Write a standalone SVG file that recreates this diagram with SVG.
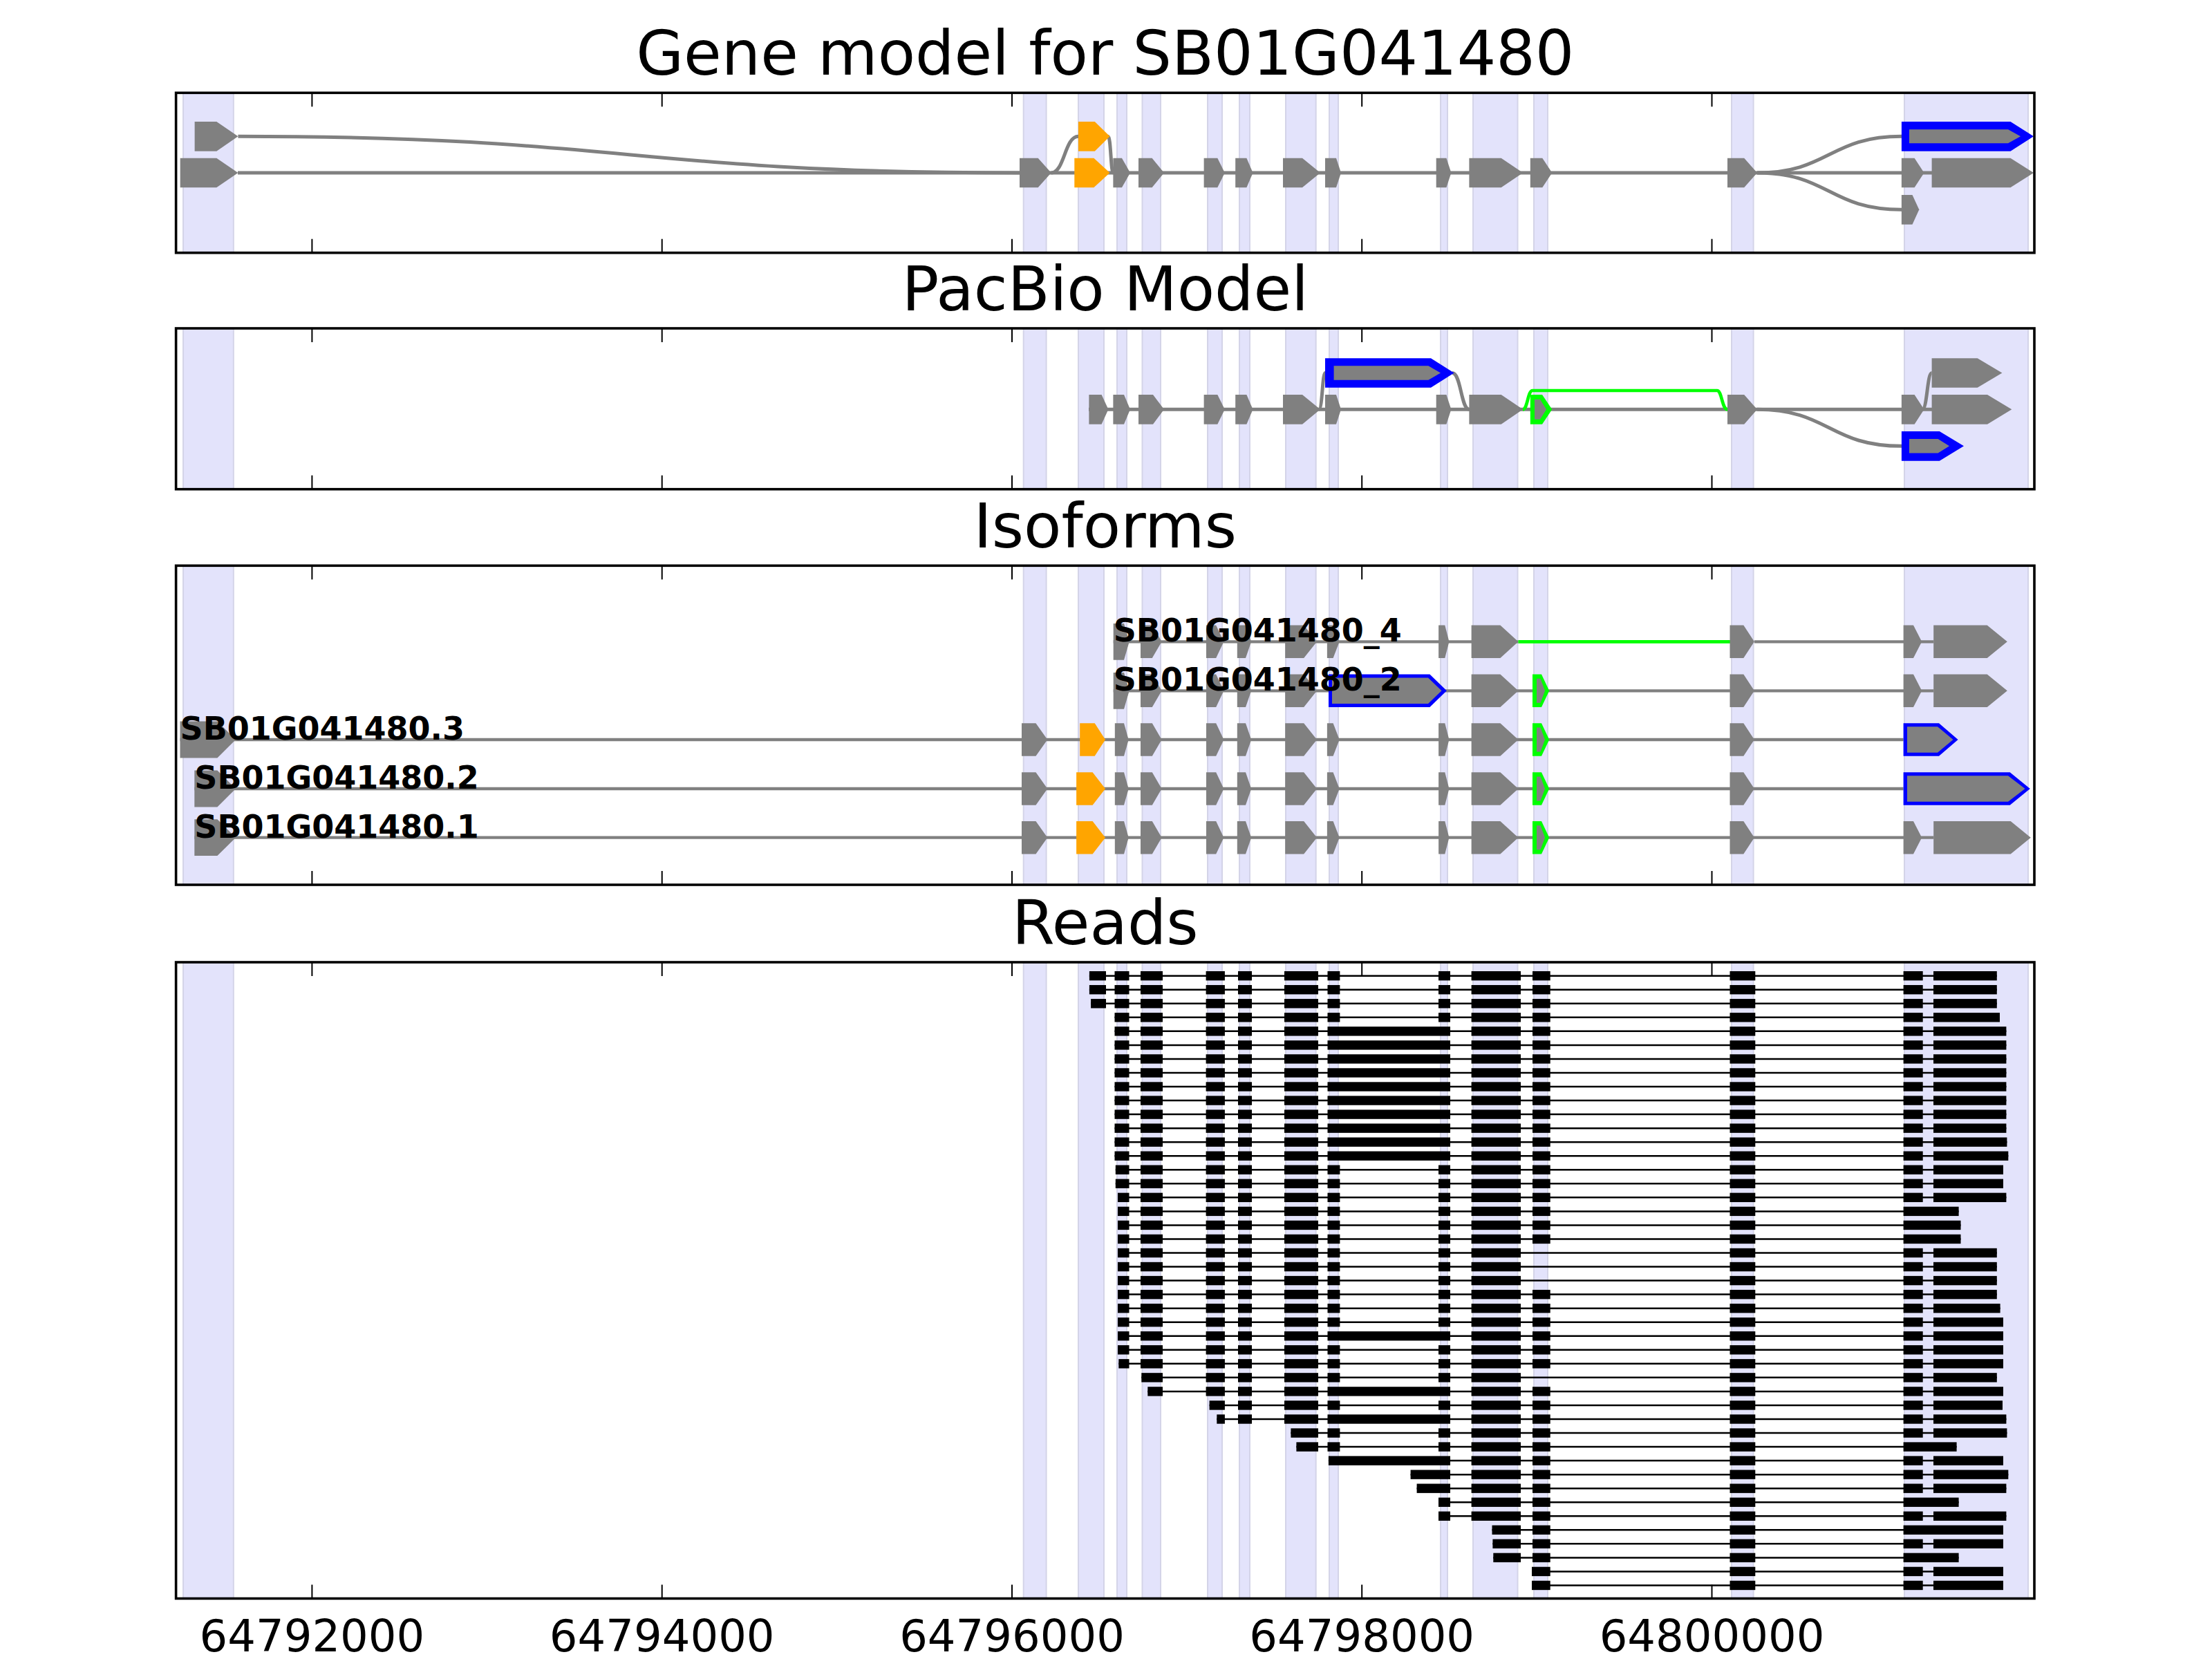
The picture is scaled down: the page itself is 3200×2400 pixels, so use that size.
<svg xmlns="http://www.w3.org/2000/svg" xmlns:xlink="http://www.w3.org/1999/xlink" width="3200" height="2400" viewBox="0 0 3200 2400">
<style>
.band{fill:#e3e3fb;stroke:#d4d4e8;stroke-width:2}
.frame{fill:none;stroke:#000;stroke-width:3.6}
.ex{fill:#808080}
.or{fill:#ffa500}
.bl{fill:#0000ff}
.gr{fill:#00ff00}
.ln{stroke:#808080;stroke-width:5;fill:none}
.ln3{stroke:#808080;stroke-width:4.3;fill:none}
.gl{stroke:#00ff00;stroke-width:4.7;fill:none}
.gl5{stroke:#00ff00;stroke-width:4.7;fill:none}
.title{font-family:'DejaVu Sans','Liberation Sans',sans-serif;font-size:88.9px;text-anchor:middle;fill:#000}
.tl{font-family:'DejaVu Sans','Liberation Sans',sans-serif;font-size:64px;text-anchor:middle;fill:#000}
.lab{font-family:'DejaVu Sans','Liberation Sans',sans-serif;font-weight:bold;font-size:46px;fill:#000}
.rl{stroke:#000;stroke-width:2.5}
.rd{fill:#000}
</style>
<defs>
<g id="tk" stroke="#000" stroke-width="2">
<line x1="451.4" y1="0" x2="451.4" y2="20"/><line x1="957.7" y1="0" x2="957.7" y2="20"/><line x1="1464" y1="0" x2="1464" y2="20"/><line x1="1970.2" y1="0" x2="1970.2" y2="20"/><line x1="2476.5" y1="0" x2="2476.5" y2="20"/>
</g>
<polygon id="pf" points="1741.6,-21.35 1761.3,-21.35 1771.8,0 1761.3,21.35 1741.6,21.35"/>
<polygon id="pg" points="1787.2,-21.35 1803.4,-21.35 1812.5,0 1803.4,21.35 1787.2,21.35"/>
<polygon id="ph" points="1856,-21.35 1884,-21.35 1910,0 1884,21.35 1856,21.35"/>
<polygon id="pi" points="1917,-21.35 1933,-21.35 1940,0 1933,21.35 1917,21.35"/>
<polygon id="pj" points="2077.7,-21.35 2092.4,-21.35 2099.4,0 2092.4,21.35 2077.7,21.35"/>
<polygon id="pk" points="2125.4,-21.35 2171.7,-21.35 2203.2,0 2171.7,21.35 2125.4,21.35"/>
<polygon id="pm" points="2499,-21.35 2523.2,-21.35 2542,0 2523.2,21.35 2499,21.35"/>
<polygon id="pn" points="2750.9,-21.35 2769.6,-21.35 2783.5,0 2769.6,21.35 2750.9,21.35"/>
<polygon id="iC1" points="1478,-23.7 1498.5,-23.7 1515.3,0 1498.5,23.7 1478,23.7"/>
<polygon id="iC3" points="1612.8,-23.7 1626,-23.7 1632.7,0 1626,23.7 1612.8,23.7"/>
<g id="iCore">
<polygon points="1650,-23.7 1666.8,-23.7 1680.6,0 1666.8,23.7 1650,23.7"/>
<polygon points="1745,-23.7 1759.2,-23.7 1770.4,0 1759.2,23.7 1745,23.7"/>
<polygon points="1789.8,-23.7 1802,-23.7 1810.2,0 1802,23.7 1789.8,23.7"/>
<polygon points="1859.2,-23.7 1886.2,-23.7 1905.1,0 1886.2,23.7 1859.2,23.7"/>
</g>
<g id="iC89">
<polygon points="1919.9,-23.7 1928.6,-23.7 1937.7,0 1928.6,23.7 1919.9,23.7"/>
<polygon points="2081.1,-23.7 2090.3,-23.7 2096.4,0 2090.3,23.7 2081.1,23.7"/>
</g>
<polygon id="iC10" points="2128.6,-23.7 2170.4,-23.7 2196.4,0 2170.4,23.7 2128.6,23.7"/>
<polygon id="iC11" points="2502.5,-23.7 2522.3,-23.7 2537.9,0 2522.3,23.7 2502.5,23.7"/>
<polygon id="iC12" points="2753.6,-23.7 2768,-23.7 2780.2,0 2768,23.7 2753.6,23.7"/>
<polygon id="iC13a" points="2797.2,-23.7 2874.7,-23.7 2903.8,0 2874.7,23.7 2797.2,23.7"/>
<polygon id="iF4" points="1610.7,-26.4 1626,-26.4 1633.7,0 1626,26.4 1610.7,26.4"/>
<polygon id="iF21" points="281.3,-26.4 314.4,-26.4 341,0 314.4,26.4 281.3,26.4"/>
<polygon id="iOr21" points="1557.1,-23.7 1580.6,-23.7 1599,0 1580.6,23.7 1557.1,23.7"/>
<g id="iG">
<polygon fill="#00ff00" points="2217,-23.7 2230,-23.7 2241.2,0 2230,23.7 2217,23.7"/>
<polygon fill="#808080" points="2223,-17.5 2228.5,-17.5 2235,0 2228.5,17.5 2223,17.5"/>
</g>
<rect id="r3" x="1650" y="-6.7" width="32" height="13.4"/>
<rect id="r4" x="1744.6" y="-6.7" width="27.3" height="13.4"/>
<rect id="r5" x="1791" y="-6.7" width="20" height="13.4"/>
<rect id="r6" x="1858" y="-6.7" width="49" height="13.4"/>
<rect id="r7" x="1920.5" y="-6.7" width="17.9" height="13.4"/>
<rect id="r8" x="2081" y="-6.7" width="17" height="13.4"/>
<rect id="rR" x="1920.5" y="-6.7" width="177.5" height="13.4"/>
<rect id="r9" x="2128.6" y="-6.7" width="71.4" height="13.4"/>
<rect id="r10" x="2217" y="-6.7" width="25.7" height="13.4"/>
<rect id="r11" x="2502.5" y="-6.7" width="36.8" height="13.4"/>
<rect id="r12" x="2753.6" y="-6.7" width="28.1" height="13.4"/>
<g id="L"><use xlink:href="#r3"/><use xlink:href="#r4"/><use xlink:href="#r5"/><use xlink:href="#r6"/></g>
<g id="L456"><use xlink:href="#r4"/><use xlink:href="#r5"/><use xlink:href="#r6"/></g>
<g id="L56"><use xlink:href="#r5"/><use xlink:href="#r6"/></g>
<g id="N"><use xlink:href="#r7"/><use xlink:href="#r8"/></g>
<g id="T"><use xlink:href="#r9"/><use xlink:href="#r10"/><use xlink:href="#r11"/><use xlink:href="#r12"/></g>
<g id="Tn"><use xlink:href="#r9"/><use xlink:href="#r11"/><use xlink:href="#r12"/></g>
<g id="Tr"><use xlink:href="#r9"/><use xlink:href="#r10"/><use xlink:href="#r11"/></g>
</defs>
<rect x="0" y="0" width="3200" height="2400" fill="#fff"/>

<!-- bands -->
<g id="bands-gene">
<rect class="band" x="265" y="134.3" width="72.8" height="231.4"/><rect class="band" x="1480.7" y="134.3" width="32.9" height="231.4"/><rect class="band" x="1560" y="134.3" width="37" height="231.4"/><rect class="band" x="1616" y="134.3" width="14" height="231.4"/><rect class="band" x="1652.5" y="134.3" width="26.5" height="231.4"/><rect class="band" x="1747" y="134.3" width="21" height="231.4"/><rect class="band" x="1793" y="134.3" width="15" height="231.4"/><rect class="band" x="1860" y="134.3" width="43.7" height="231.4"/><rect class="band" x="1923" y="134.3" width="13" height="231.4"/><rect class="band" x="2084" y="134.3" width="10" height="231.4"/><rect class="band" x="2131" y="134.3" width="64.5" height="231.4"/><rect class="band" x="2219" y="134.3" width="20" height="231.4"/><rect class="band" x="2505" y="134.3" width="31.6" height="231.4"/><rect class="band" x="2755" y="134.3" width="179" height="231.4"/>
</g>
<g id="bands-pacbio">
<rect class="band" x="265" y="475" width="72.8" height="232.7"/><rect class="band" x="1480.7" y="475" width="32.9" height="232.7"/><rect class="band" x="1560" y="475" width="37" height="232.7"/><rect class="band" x="1616" y="475" width="14" height="232.7"/><rect class="band" x="1652.5" y="475" width="26.5" height="232.7"/><rect class="band" x="1747" y="475" width="21" height="232.7"/><rect class="band" x="1793" y="475" width="15" height="232.7"/><rect class="band" x="1860" y="475" width="43.7" height="232.7"/><rect class="band" x="1923" y="475" width="13" height="232.7"/><rect class="band" x="2084" y="475" width="10" height="232.7"/><rect class="band" x="2131" y="475" width="64.5" height="232.7"/><rect class="band" x="2219" y="475" width="20" height="232.7"/><rect class="band" x="2505" y="475" width="31.6" height="232.7"/><rect class="band" x="2755" y="475" width="179" height="232.7"/>
</g>
<g id="bands-iso">
<rect class="band" x="265" y="818.3" width="72.8" height="461.7"/><rect class="band" x="1480.7" y="818.3" width="32.9" height="461.7"/><rect class="band" x="1560" y="818.3" width="37" height="461.7"/><rect class="band" x="1616" y="818.3" width="14" height="461.7"/><rect class="band" x="1652.5" y="818.3" width="26.5" height="461.7"/><rect class="band" x="1747" y="818.3" width="21" height="461.7"/><rect class="band" x="1793" y="818.3" width="15" height="461.7"/><rect class="band" x="1860" y="818.3" width="43.7" height="461.7"/><rect class="band" x="1923" y="818.3" width="13" height="461.7"/><rect class="band" x="2084" y="818.3" width="10" height="461.7"/><rect class="band" x="2131" y="818.3" width="64.5" height="461.7"/><rect class="band" x="2219" y="818.3" width="20" height="461.7"/><rect class="band" x="2505" y="818.3" width="31.6" height="461.7"/><rect class="band" x="2755" y="818.3" width="179" height="461.7"/>
</g>
<g id="bands-reads">
<rect class="band" x="265" y="1392" width="72.8" height="920.5"/><rect class="band" x="1480.7" y="1392" width="32.9" height="920.5"/><rect class="band" x="1560" y="1392" width="37" height="920.5"/><rect class="band" x="1616" y="1392" width="14" height="920.5"/><rect class="band" x="1652.5" y="1392" width="26.5" height="920.5"/><rect class="band" x="1747" y="1392" width="21" height="920.5"/><rect class="band" x="1793" y="1392" width="15" height="920.5"/><rect class="band" x="1860" y="1392" width="43.7" height="920.5"/><rect class="band" x="1923" y="1392" width="13" height="920.5"/><rect class="band" x="2084" y="1392" width="10" height="920.5"/><rect class="band" x="2131" y="1392" width="64.5" height="920.5"/><rect class="band" x="2219" y="1392" width="20" height="920.5"/><rect class="band" x="2505" y="1392" width="31.6" height="920.5"/><rect class="band" x="2755" y="1392" width="179" height="920.5"/>
</g>

<!-- connectors -->
<g id="connectors">
<path class="ln" d="M344 250H2795"/>
<path class="ln" d="M344.4 197.3C910 197.3 910 250 1475 250"/>
<path class="ln" d="M1520.7 250C1540 250 1540 197.3 1560 197.3"/>
<path class="ln" d="M1603 197.3C1607 197.3 1607 250 1610.4 250"/>
<path class="ln" d="M2542 250C2646 250 2646 197.3 2751 197.3"/>
<path class="ln" d="M2542 250C2646 250 2646 303.3 2751 303.3"/>
<path class="ln" d="M1575 592.3H2795"/>
<path class="ln" d="M1908 592.3C1913 592.3 1913 539.5 1917 539.5"/>
<path class="ln" d="M2101 539.5C2113.5 539.5 2113.5 592.3 2125.4 592.3"/>
<path class="ln" d="M2542 592.3C2646 592.3 2646 645.3 2751 645.3"/>
<path class="ln" d="M2781 592.3C2788 592.3 2788 539.5 2794.6 539.5"/>
<path class="gl5" d="M2203 592.3C2210 592.3 2210 565 2217 565H2484C2491 565 2491 592.3 2499 592.3"/>
<path class="ln3" d="M1610.7 928.3H2196.4"/>
<path class="gl" d="M2196.4 928.3H2505"/>
<path class="ln3" d="M2537.9 928.3H2797.2"/>
<path class="ln3" d="M1610.7 999.3H2797.2"/>
<path class="ln3" d="M260.5 1070H2753.6"/>
<path class="ln3" d="M281.3 1141H2753.6"/>
<path class="ln3" d="M281.3 1211.7H2797.2"/>
</g>

<!-- Gene model nodes -->
<g id="gene-model">
<g id="gm-main" transform="translate(0,250)">
<polygon class="ex" points="260.7,-21.35 313.3,-21.35 344.4,0 313.3,21.35 260.7,21.35"/>
<polygon class="ex" points="1475,-21.35 1501.7,-21.35 1520.7,0 1501.7,21.35 1475,21.35"/>
<polygon class="or" points="1554.3,-21.35 1582.4,-21.35 1605.5,0 1582.4,21.35 1554.3,21.35"/>
<polygon class="ex" points="1610.4,-21.35 1623,-21.35 1635,0 1623,21.35 1610.4,21.35"/>
<polygon class="ex" points="1647,-21.35 1666.6,-21.35 1684,0 1666.6,21.35 1647,21.35"/>
<use class="ex" xlink:href="#pf"/><use class="ex" xlink:href="#pg"/><use class="ex" xlink:href="#ph"/><use class="ex" xlink:href="#pi"/><use class="ex" xlink:href="#pj"/><use class="ex" xlink:href="#pk"/>
<polygon class="ex" points="2213.8,-21.35 2231.3,-21.35 2245.3,0 2231.3,21.35 2213.8,21.35"/>
<use class="ex" xlink:href="#pm"/><use class="ex" xlink:href="#pn"/>
<polygon class="ex" points="2794.6,-21.35 2908.5,-21.35 2942,0 2908.5,21.35 2794.6,21.35"/>
</g>
<g id="gm-top" transform="translate(0,197.3)">
<polygon class="ex" points="281.6,-21.35 313.3,-21.35 344.4,0 313.3,21.35 281.6,21.35"/>
<polygon class="or" points="1560,-21.35 1583.8,-21.35 1605.5,0 1583.8,21.35 1560,21.35"/>
<polygon class="bl" points="2750.9,-21.35 2908.5,-21.35 2942,0 2908.5,21.35 2750.9,21.35"/>
<polygon class="ex" points="2762,-10 2905,-10 2923,0 2905,10 2762,10"/>
</g>
<g id="gm-bottom" transform="translate(0,303.3)">
<polygon class="ex" points="2750.9,-21.35 2766.5,-21.35 2776.3,0 2766.5,21.35 2750.9,21.35"/>
</g>
</g>

<!-- PacBio nodes -->
<g id="pacbio">
<g id="pb-main" transform="translate(0,592.3)">
<polygon class="ex" points="1575.4,-21.35 1593.6,-21.35 1603.4,0 1593.6,21.35 1575.4,21.35"/>
<polygon class="ex" points="1610.4,-21.35 1626,-21.35 1635,0 1626,21.35 1610.4,21.35"/>
<polygon class="ex" points="1647,-21.35 1668,-21.35 1684,0 1668,21.35 1647,21.35"/>
<use class="ex" xlink:href="#pf"/><use class="ex" xlink:href="#pg"/><use class="ex" xlink:href="#ph"/><use class="ex" xlink:href="#pi"/><use class="ex" xlink:href="#pj"/><use class="ex" xlink:href="#pk"/>
<polygon class="gr" points="2213.8,-21.35 2231,-21.35 2245.3,0 2231,21.35 2213.8,21.35"/>
<polygon class="ex" points="2220,-14.5 2228,-14.5 2237,0 2228,14.5 2220,14.5"/>
<use class="ex" xlink:href="#pm"/><use class="ex" xlink:href="#pn"/>
<polygon class="ex" points="2794.6,-21.35 2875,-21.35 2910.3,0 2875,21.35 2794.6,21.35"/>
</g>
<g id="pb-top" transform="translate(0,539.5)">
<polygon class="bl" points="1917,-21.35 2070,-21.35 2103.6,0 2070,21.35 1917,21.35"/>
<polygon class="ex" points="1929.6,-10.2 2066.4,-10.2 2084,0 2066.4,10.2 1929.6,10.2"/>
<polygon class="ex" points="2794.6,-21.35 2860.7,-21.35 2896.4,0 2860.7,21.35 2794.6,21.35"/>
</g>
<g id="pb-bottom" transform="translate(0,645.3)">
<polygon class="bl" points="2750.9,-21.35 2805.8,-21.35 2841,0 2805.8,21.35 2750.9,21.35"/>
<polygon class="ex" points="2762,-10.3 2803.6,-10.3 2820,0 2803.6,10.3 2762,10.3"/>
</g>
</g>

<!-- Isoforms -->
<g id="isoforms">
<g id="iso-4" transform="translate(0,928.3)">
<use class="ex" xlink:href="#iF4"/><use class="ex" xlink:href="#iCore"/><use class="ex" xlink:href="#iC89"/><use class="ex" xlink:href="#iC10"/><use class="ex" xlink:href="#iC11"/><use class="ex" xlink:href="#iC12"/><use class="ex" xlink:href="#iC13a"/>
<text class="lab" x="1610.7" y="0">SB01G041480_4</text>
</g>
<g id="iso-_2" transform="translate(0,999.3)">
<use class="ex" xlink:href="#iF4"/><use class="ex" xlink:href="#iCore"/>
<polygon class="bl" points="1922,-23.7 2068.4,-23.7 2092.9,0 2068.4,23.7 1922,23.7"/>
<polygon class="ex" points="1927,-18.7 2066,-18.7 2085.5,0 2066,18.7 1927,18.7"/>
<use class="ex" xlink:href="#iC10"/><use xlink:href="#iG"/><use class="ex" xlink:href="#iC11"/><use class="ex" xlink:href="#iC12"/><use class="ex" xlink:href="#iC13a"/>
<text class="lab" x="1610.7" y="0">SB01G041480_2</text>
</g>
<g id="iso-3" transform="translate(0,1070)">
<polygon class="ex" points="260.5,-26.4 314.4,-26.4 341,0 314.4,26.4 260.5,26.4"/>
<use class="ex" xlink:href="#iC1"/>
<polygon class="or" points="1562.2,-23.7 1583.7,-23.7 1599,0 1583.7,23.7 1562.2,23.7"/>
<use class="ex" xlink:href="#iC3"/><use class="ex" xlink:href="#iCore"/><use class="ex" xlink:href="#iC89"/><use class="ex" xlink:href="#iC10"/><use xlink:href="#iG"/><use class="ex" xlink:href="#iC11"/>
<polygon class="bl" points="2753.6,-23.7 2805,-23.7 2832.6,0 2805,23.7 2753.6,23.7"/>
<polygon class="ex" points="2759,-18.7 2803,-18.7 2825.5,0 2803,18.7 2759,18.7"/>
<text class="lab" x="260.5" y="0">SB01G041480.3</text>
</g>
<g id="iso-2" transform="translate(0,1141)">
<use class="ex" xlink:href="#iF21"/><use class="ex" xlink:href="#iC1"/><use class="or" xlink:href="#iOr21"/>
<use class="ex" xlink:href="#iC3"/><use class="ex" xlink:href="#iCore"/><use class="ex" xlink:href="#iC89"/><use class="ex" xlink:href="#iC10"/><use xlink:href="#iG"/><use class="ex" xlink:href="#iC11"/>
<polygon class="bl" points="2753.6,-23.7 2907.7,-23.7 2936.8,0 2907.7,23.7 2753.6,23.7"/>
<polygon class="ex" points="2759,-18.7 2905,-18.7 2929.5,0 2905,18.7 2759,18.7"/>
<text class="lab" x="281.3" y="0">SB01G041480.2</text>
</g>
<g id="iso-1" transform="translate(0,1211.7)">
<use class="ex" xlink:href="#iF21"/><use class="ex" xlink:href="#iC1"/><use class="or" xlink:href="#iOr21"/>
<use class="ex" xlink:href="#iC3"/><use class="ex" xlink:href="#iCore"/><use class="ex" xlink:href="#iC89"/><use class="ex" xlink:href="#iC10"/><use xlink:href="#iG"/><use class="ex" xlink:href="#iC11"/><use class="ex" xlink:href="#iC12"/>
<polygon class="ex" points="2797.2,-23.7 2908.7,-23.7 2937.8,0 2908.7,23.7 2797.2,23.7"/>
<text class="lab" x="281.3" y="0">SB01G041480.1</text>
</g>
</g>

<!-- Reads -->
<g id="reads" class="rd">
<g id="read-1" transform="translate(0,1411.7)"><line class="rl" x1="1575.9" x2="2888.8" y1="0" y2="0"/><rect x="1575.9" y="-6.7" width="24.1" height="13.4"/><rect x="1612.5" y="-6.7" width="21" height="13.4"/><use xlink:href="#L"/><use xlink:href="#N"/><use xlink:href="#T"/><rect x="2797" y="-6.7" width="91.8" height="13.4"/></g>
<g id="read-2" transform="translate(0,1431.74)"><line class="rl" x1="1575.9" x2="2888.8" y1="0" y2="0"/><rect x="1575.9" y="-6.7" width="24.1" height="13.4"/><rect x="1612.5" y="-6.7" width="21" height="13.4"/><use xlink:href="#L"/><use xlink:href="#N"/><use xlink:href="#T"/><rect x="2797" y="-6.7" width="91.8" height="13.4"/></g>
<g id="read-3" transform="translate(0,1451.78)"><line class="rl" x1="1578.1" x2="2888.8" y1="0" y2="0"/><rect x="1578.1" y="-6.7" width="21.9" height="13.4"/><rect x="1612.5" y="-6.7" width="21" height="13.4"/><use xlink:href="#L"/><use xlink:href="#N"/><use xlink:href="#T"/><rect x="2797" y="-6.7" width="91.8" height="13.4"/></g>
<g id="read-4" transform="translate(0,1471.82)"><line class="rl" x1="1612.5" x2="2893" y1="0" y2="0"/><rect x="1612.5" y="-6.7" width="21" height="13.4"/><use xlink:href="#L"/><use xlink:href="#N"/><use xlink:href="#T"/><rect x="2797" y="-6.7" width="96" height="13.4"/></g>
<g id="read-5" transform="translate(0,1491.86)"><line class="rl" x1="1612.5" x2="2902.4" y1="0" y2="0"/><rect x="1612.5" y="-6.7" width="21" height="13.4"/><use xlink:href="#L"/><use xlink:href="#rR"/><use xlink:href="#T"/><rect x="2797" y="-6.7" width="105.4" height="13.4"/></g>
<g id="read-6" transform="translate(0,1511.9)"><line class="rl" x1="1612.5" x2="2902.4" y1="0" y2="0"/><rect x="1612.5" y="-6.7" width="21" height="13.4"/><use xlink:href="#L"/><use xlink:href="#rR"/><use xlink:href="#T"/><rect x="2797" y="-6.7" width="105.4" height="13.4"/></g>
<g id="read-7" transform="translate(0,1531.94)"><line class="rl" x1="1612.5" x2="2902.4" y1="0" y2="0"/><rect x="1612.5" y="-6.7" width="21" height="13.4"/><use xlink:href="#L"/><use xlink:href="#rR"/><use xlink:href="#T"/><rect x="2797" y="-6.7" width="105.4" height="13.4"/></g>
<g id="read-8" transform="translate(0,1551.98)"><line class="rl" x1="1612.5" x2="2902.4" y1="0" y2="0"/><rect x="1612.5" y="-6.7" width="21" height="13.4"/><use xlink:href="#L"/><use xlink:href="#rR"/><use xlink:href="#T"/><rect x="2797" y="-6.7" width="105.4" height="13.4"/></g>
<g id="read-9" transform="translate(0,1572.02)"><line class="rl" x1="1612.5" x2="2902.4" y1="0" y2="0"/><rect x="1612.5" y="-6.7" width="21" height="13.4"/><use xlink:href="#L"/><use xlink:href="#rR"/><use xlink:href="#T"/><rect x="2797" y="-6.7" width="105.4" height="13.4"/></g>
<g id="read-10" transform="translate(0,1592.06)"><line class="rl" x1="1612.5" x2="2902.4" y1="0" y2="0"/><rect x="1612.5" y="-6.7" width="21" height="13.4"/><use xlink:href="#L"/><use xlink:href="#rR"/><use xlink:href="#T"/><rect x="2797" y="-6.7" width="105.4" height="13.4"/></g>
<g id="read-11" transform="translate(0,1612.1)"><line class="rl" x1="1612.5" x2="2902.4" y1="0" y2="0"/><rect x="1612.5" y="-6.7" width="21" height="13.4"/><use xlink:href="#L"/><use xlink:href="#rR"/><use xlink:href="#T"/><rect x="2797" y="-6.7" width="105.4" height="13.4"/></g>
<g id="read-12" transform="translate(0,1632.14)"><line class="rl" x1="1612.5" x2="2902.4" y1="0" y2="0"/><rect x="1612.5" y="-6.7" width="21" height="13.4"/><use xlink:href="#L"/><use xlink:href="#rR"/><use xlink:href="#T"/><rect x="2797" y="-6.7" width="105.4" height="13.4"/></g>
<g id="read-13" transform="translate(0,1652.18)"><line class="rl" x1="1612.5" x2="2903.4" y1="0" y2="0"/><rect x="1612.5" y="-6.7" width="21" height="13.4"/><use xlink:href="#L"/><use xlink:href="#rR"/><use xlink:href="#T"/><rect x="2797" y="-6.7" width="106.4" height="13.4"/></g>
<g id="read-14" transform="translate(0,1672.22)"><line class="rl" x1="1612.5" x2="2905.3" y1="0" y2="0"/><rect x="1612.5" y="-6.7" width="21" height="13.4"/><use xlink:href="#L"/><use xlink:href="#rR"/><use xlink:href="#T"/><rect x="2797" y="-6.7" width="108.3" height="13.4"/></g>
<g id="read-15" transform="translate(0,1692.26)"><line class="rl" x1="1613.8" x2="2898" y1="0" y2="0"/><rect x="1613.8" y="-6.7" width="19.7" height="13.4"/><use xlink:href="#L"/><use xlink:href="#N"/><use xlink:href="#T"/><rect x="2797" y="-6.7" width="101" height="13.4"/></g>
<g id="read-16" transform="translate(0,1712.3)"><line class="rl" x1="1613.8" x2="2898" y1="0" y2="0"/><rect x="1613.8" y="-6.7" width="19.7" height="13.4"/><use xlink:href="#L"/><use xlink:href="#N"/><use xlink:href="#T"/><rect x="2797" y="-6.7" width="101" height="13.4"/></g>
<g id="read-17" transform="translate(0,1732.34)"><line class="rl" x1="1617" x2="2902.4" y1="0" y2="0"/><rect x="1617" y="-6.7" width="16.5" height="13.4"/><use xlink:href="#L"/><use xlink:href="#N"/><use xlink:href="#T"/><rect x="2797" y="-6.7" width="105.4" height="13.4"/></g>
<g id="read-18" transform="translate(0,1752.38)"><line class="rl" x1="1617" x2="2833.6" y1="0" y2="0"/><rect x="1617" y="-6.7" width="16.5" height="13.4"/><use xlink:href="#L"/><use xlink:href="#N"/><use xlink:href="#Tr"/><rect x="2753.6" y="-6.7" width="80" height="13.4"/></g>
<g id="read-19" transform="translate(0,1772.42)"><line class="rl" x1="1617" x2="2836.5" y1="0" y2="0"/><rect x="1617" y="-6.7" width="16.5" height="13.4"/><use xlink:href="#L"/><use xlink:href="#N"/><use xlink:href="#Tr"/><rect x="2753.6" y="-6.7" width="82.9" height="13.4"/></g>
<g id="read-20" transform="translate(0,1792.46)"><line class="rl" x1="1617" x2="2836.5" y1="0" y2="0"/><rect x="1617" y="-6.7" width="16.5" height="13.4"/><use xlink:href="#L"/><use xlink:href="#N"/><use xlink:href="#Tr"/><rect x="2753.6" y="-6.7" width="82.9" height="13.4"/></g>
<g id="read-21" transform="translate(0,1812.5)"><line class="rl" x1="1617" x2="2888.8" y1="0" y2="0"/><rect x="1617" y="-6.7" width="16.5" height="13.4"/><use xlink:href="#L"/><use xlink:href="#N"/><use xlink:href="#Tn"/><rect x="2797" y="-6.7" width="91.8" height="13.4"/></g>
<g id="read-22" transform="translate(0,1832.54)"><line class="rl" x1="1617" x2="2888.8" y1="0" y2="0"/><rect x="1617" y="-6.7" width="16.5" height="13.4"/><use xlink:href="#L"/><use xlink:href="#N"/><use xlink:href="#Tn"/><rect x="2797" y="-6.7" width="91.8" height="13.4"/></g>
<g id="read-23" transform="translate(0,1852.58)"><line class="rl" x1="1617" x2="2888.8" y1="0" y2="0"/><rect x="1617" y="-6.7" width="16.5" height="13.4"/><use xlink:href="#L"/><use xlink:href="#N"/><use xlink:href="#Tn"/><rect x="2797" y="-6.7" width="91.8" height="13.4"/></g>
<g id="read-24" transform="translate(0,1872.62)"><line class="rl" x1="1617" x2="2888.8" y1="0" y2="0"/><rect x="1617" y="-6.7" width="16.5" height="13.4"/><use xlink:href="#L"/><use xlink:href="#N"/><use xlink:href="#T"/><rect x="2797" y="-6.7" width="91.8" height="13.4"/></g>
<g id="read-25" transform="translate(0,1892.66)"><line class="rl" x1="1617" x2="2893.6" y1="0" y2="0"/><rect x="1617" y="-6.7" width="16.5" height="13.4"/><use xlink:href="#L"/><use xlink:href="#N"/><use xlink:href="#T"/><rect x="2797" y="-6.7" width="96.6" height="13.4"/></g>
<g id="read-26" transform="translate(0,1912.7)"><line class="rl" x1="1617" x2="2898" y1="0" y2="0"/><rect x="1617" y="-6.7" width="16.5" height="13.4"/><use xlink:href="#L"/><use xlink:href="#N"/><use xlink:href="#T"/><rect x="2797" y="-6.7" width="101" height="13.4"/></g>
<g id="read-27" transform="translate(0,1932.74)"><line class="rl" x1="1617" x2="2898" y1="0" y2="0"/><rect x="1617" y="-6.7" width="16.5" height="13.4"/><use xlink:href="#L"/><use xlink:href="#rR"/><use xlink:href="#T"/><rect x="2797" y="-6.7" width="101" height="13.4"/></g>
<g id="read-28" transform="translate(0,1952.78)"><line class="rl" x1="1617" x2="2898" y1="0" y2="0"/><rect x="1617" y="-6.7" width="16.5" height="13.4"/><use xlink:href="#L"/><use xlink:href="#N"/><use xlink:href="#T"/><rect x="2797" y="-6.7" width="101" height="13.4"/></g>
<g id="read-29" transform="translate(0,1972.82)"><line class="rl" x1="1618.3" x2="2898" y1="0" y2="0"/><rect x="1618.3" y="-6.7" width="15.2" height="13.4"/><use xlink:href="#L"/><use xlink:href="#N"/><use xlink:href="#T"/><rect x="2797" y="-6.7" width="101" height="13.4"/></g>
<g id="read-30" transform="translate(0,1992.86)"><line class="rl" x1="1651.3" x2="2888.8" y1="0" y2="0"/><rect x="1651.3" y="-6.7" width="30.7" height="13.4"/><use xlink:href="#L456"/><use xlink:href="#N"/><use xlink:href="#Tn"/><rect x="2797" y="-6.7" width="91.8" height="13.4"/></g>
<g id="read-31" transform="translate(0,2012.9)"><line class="rl" x1="1660.3" x2="2898" y1="0" y2="0"/><rect x="1660.3" y="-6.7" width="21.7" height="13.4"/><use xlink:href="#L456"/><use xlink:href="#rR"/><use xlink:href="#T"/><rect x="2797" y="-6.7" width="101" height="13.4"/></g>
<g id="read-32" transform="translate(0,2032.94)"><line class="rl" x1="1749.6" x2="2897" y1="0" y2="0"/><rect x="1749.6" y="-6.7" width="22.3" height="13.4"/><use xlink:href="#L56"/><use xlink:href="#N"/><use xlink:href="#T"/><rect x="2797" y="-6.7" width="100" height="13.4"/></g>
<g id="read-33" transform="translate(0,2052.98)"><line class="rl" x1="1760.3" x2="2902.4" y1="0" y2="0"/><rect x="1760.3" y="-6.7" width="11.6" height="13.4"/><use xlink:href="#L56"/><use xlink:href="#rR"/><use xlink:href="#T"/><rect x="2797" y="-6.7" width="105.4" height="13.4"/></g>
<g id="read-34" transform="translate(0,2073.02)"><line class="rl" x1="1867.4" x2="2903.4" y1="0" y2="0"/><rect x="1867.4" y="-6.7" width="39.6" height="13.4"/><use xlink:href="#N"/><use xlink:href="#T"/><rect x="2797" y="-6.7" width="106.4" height="13.4"/></g>
<g id="read-35" transform="translate(0,2093.06)"><line class="rl" x1="1875.4" x2="2830.6" y1="0" y2="0"/><rect x="1875.4" y="-6.7" width="31.6" height="13.4"/><use xlink:href="#N"/><use xlink:href="#Tr"/><rect x="2753.6" y="-6.7" width="77" height="13.4"/></g>
<g id="read-36" transform="translate(0,2113.1)"><line class="rl" x1="1921.9" x2="2898" y1="0" y2="0"/><rect x="1921.9" y="-6.7" width="176.1" height="13.4"/><use xlink:href="#T"/><rect x="2797" y="-6.7" width="101" height="13.4"/></g>
<g id="read-37" transform="translate(0,2133.14)"><line class="rl" x1="2040.6" x2="2905.3" y1="0" y2="0"/><rect x="2040.6" y="-6.7" width="57.4" height="13.4"/><use xlink:href="#T"/><rect x="2797" y="-6.7" width="108.3" height="13.4"/></g>
<g id="read-38" transform="translate(0,2153.18)"><line class="rl" x1="2049.6" x2="2902.4" y1="0" y2="0"/><rect x="2049.6" y="-6.7" width="48.4" height="13.4"/><use xlink:href="#T"/><rect x="2797" y="-6.7" width="105.4" height="13.4"/></g>
<g id="read-39" transform="translate(0,2173.22)"><line class="rl" x1="2081" x2="2833.6" y1="0" y2="0"/><use xlink:href="#r8"/><use xlink:href="#Tr"/><rect x="2753.6" y="-6.7" width="80" height="13.4"/></g>
<g id="read-40" transform="translate(0,2193.26)"><line class="rl" x1="2081" x2="2902.4" y1="0" y2="0"/><use xlink:href="#r8"/><use xlink:href="#T"/><rect x="2797" y="-6.7" width="105.4" height="13.4"/></g>
<g id="read-41" transform="translate(0,2213.3)"><line class="rl" x1="2158.5" x2="2898" y1="0" y2="0"/><rect x="2158.5" y="-6.7" width="41.5" height="13.4"/><use xlink:href="#r10"/><use xlink:href="#r11"/><rect x="2753.6" y="-6.7" width="144.4" height="13.4"/></g>
<g id="read-42" transform="translate(0,2233.34)"><line class="rl" x1="2159.4" x2="2898" y1="0" y2="0"/><rect x="2159.4" y="-6.7" width="40.6" height="13.4"/><use xlink:href="#r10"/><use xlink:href="#r11"/><use xlink:href="#r12"/><rect x="2797" y="-6.7" width="101" height="13.4"/></g>
<g id="read-43" transform="translate(0,2253.38)"><line class="rl" x1="2160.3" x2="2833.6" y1="0" y2="0"/><rect x="2160.3" y="-6.7" width="39.7" height="13.4"/><use xlink:href="#r10"/><use xlink:href="#r11"/><rect x="2753.6" y="-6.7" width="80" height="13.4"/></g>
<g id="read-44" transform="translate(0,2273.42)"><line class="rl" x1="2216" x2="2898" y1="0" y2="0"/><rect x="2216" y="-6.7" width="26.7" height="13.4"/><use xlink:href="#r11"/><use xlink:href="#r12"/><rect x="2797" y="-6.7" width="101" height="13.4"/></g>
<g id="read-45" transform="translate(0,2293.46)"><line class="rl" x1="2216" x2="2898" y1="0" y2="0"/><rect x="2216" y="-6.7" width="26.7" height="13.4"/><use xlink:href="#r11"/><use xlink:href="#r12"/><rect x="2797" y="-6.7" width="101" height="13.4"/></g>
</g>

<!-- axes: ticks and frames -->
<g id="axes">
<use xlink:href="#tk" transform="translate(0,134.3)"/><use xlink:href="#tk" transform="translate(0,345.7)"/>
<use xlink:href="#tk" transform="translate(0,475)"/><use xlink:href="#tk" transform="translate(0,687.7)"/>
<use xlink:href="#tk" transform="translate(0,818.3)"/><use xlink:href="#tk" transform="translate(0,1260)"/>
<use xlink:href="#tk" transform="translate(0,1392)"/><use xlink:href="#tk" transform="translate(0,2292.5)"/>
<rect class="frame" x="254.6" y="134.3" width="2688.4" height="231.4"/>
<rect class="frame" x="254.6" y="475" width="2688.4" height="232.7"/>
<rect class="frame" x="254.6" y="818.3" width="2688.4" height="461.7"/>
<rect class="frame" x="254.6" y="1392" width="2688.4" height="920.5"/>
</g>

<g id="titles">
<text class="title" x="1598.8" y="108.3">Gene model for SB01G041480</text>
<text class="title" x="1598.8" y="449">PacBio Model</text>
<text class="title" x="1598.8" y="792.3">Isoforms</text>
<text class="title" x="1598.8" y="1366">Reads</text>
</g>
<g id="tick-labels">
<text class="tl" x="451.4" y="2389">64792000</text>
<text class="tl" x="957.7" y="2389">64794000</text>
<text class="tl" x="1464" y="2389">64796000</text>
<text class="tl" x="1970.2" y="2389">64798000</text>
<text class="tl" x="2476.5" y="2389">64800000</text>
</g>
</svg>
